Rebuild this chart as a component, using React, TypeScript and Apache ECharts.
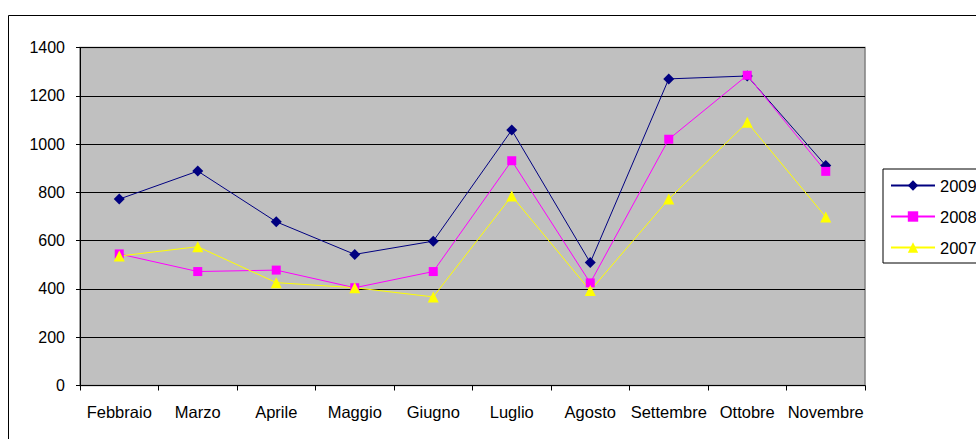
import React, { useEffect, useRef } from "react";
import * as echarts from "echarts";

const categories = ["Febbraio", "Marzo", "Aprile", "Maggio", "Giugno", "Luglio", "Agosto", "Settembre", "Ottobre", "Novembre"];
const values2009 = [772, 888, 678, 543, 598, 1058, 509, 1270, 1282, 911];
const values2008 = [545, 472, 478, 405, 472, 931, 425, 1020, 1285, 887];
const values2007 = [536, 575, 426, 405, 367, 785, 393, 772, 1090, 698];
const seriesNames = ["2009", "2008", "2007"];

const FONT = "'Liberation Sans', Arial, sans-serif";

export default function App() {
  const ref = useRef<HTMLDivElement>(null);
  useEffect(() => {
    if (!ref.current) return;
    const chart = echarts.init(ref.current, null, { renderer: "svg" });
    const mk = (name: string, data: number[], color: string, symbol: string, size: number) => ({
      name,
      type: "line",
      data,
      symbol,
      symbolSize: size,
      showSymbol: true,
      lineStyle: { color, width: 1 },
      itemStyle: { color },
      z: 5,
    });
    chart.setOption({
      animation: false,
      backgroundColor: "#ffffff",
      textStyle: { fontFamily: FONT },
      graphic: [
        {
          type: "rect",
          shape: { x: 8.5, y: 15.5, width: 1100, height: 600 },
          style: { fill: "none", stroke: "#000000", lineWidth: 1 },
          z: 0,
          silent: true,
        },
      ],
      grid: {
        left: 80,
        top: 47.5,
        right: 111,
        bottom: 53.5,
        show: true,
        backgroundColor: "#C0C0C0",
        borderColor: "#808080",
        borderWidth: 1.5,
      },
      legend: {
        orient: "vertical",
        left: 883,
        top: 169,
        itemWidth: 44,
        itemHeight: 13,
        itemGap: 14,
        padding: [8, 40, 7, 7],
        borderColor: "#000000",
        borderWidth: 1,
        backgroundColor: "#ffffff",
        textStyle: { fontSize: 16.5, color: "#000000", fontFamily: FONT, lineHeight: 16 },
        data: seriesNames,
      },
      xAxis: {
        type: "category",
        data: categories,
        boundaryGap: true,
        axisLine: { show: true, lineStyle: { color: "#000000", width: 1 } },
        axisTick: { show: true, length: 5, lineStyle: { color: "#000000" } },
        axisLabel: { color: "#000000", fontSize: 16.5, fontFamily: FONT, margin: 18, interval: 0 },
        splitLine: { show: false },
      },
      yAxis: {
        type: "value",
        min: 0,
        max: 1400,
        interval: 200,
        axisLine: { show: true, lineStyle: { color: "#000000", width: 1 } },
        axisTick: { show: true, length: 4, lineStyle: { color: "#000000" } },
        axisLabel: {
          color: "#000000",
          fontSize: 16,
          fontFamily: FONT,
          margin: 15,
          formatter: (v: number) => String(v),
        },
        splitLine: { show: true, lineStyle: { color: "#000000", width: 1 } },
      },
      series: [
        mk(seriesNames[0], values2009, "#000080", "diamond", 11),
        mk(seriesNames[1], values2008, "#FF00FF", "rect", 9),
        mk(seriesNames[2], values2007, "#FFFF00", "triangle", 11),
      ],
    });
    return () => chart.dispose();
  }, []);
  return (
    <div
      ref={ref}
      style={{ position: "fixed", left: 0, top: 0, width: 976, height: 439 }}
    />
  );
}
